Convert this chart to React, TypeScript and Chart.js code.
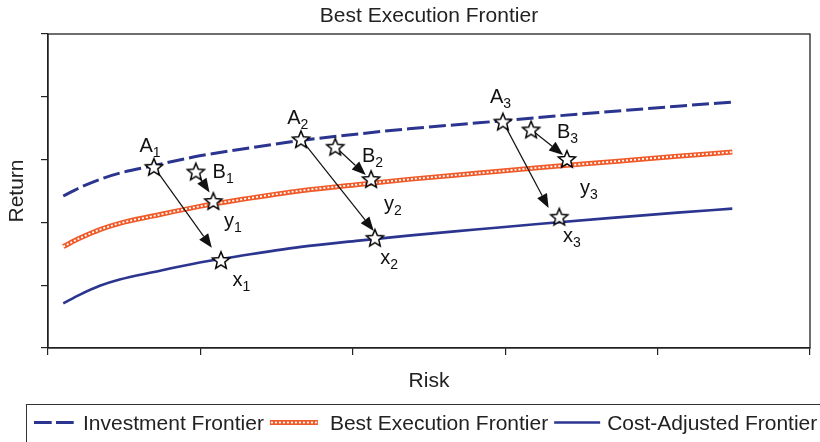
import React, { useEffect, useRef } from 'react';
import { Chart, registerables } from 'chart.js';

Chart.register(...registerables);

// ---- data (risk / return units, axes 0..100) ----
const riskPoints = [2.0, 4.2, 6.8, 9.4, 13.9, 19.9, 25.1, 33.2, 40.8, 47.3, 56.5, 64.3, 74.8, 82.6, 89.8];
const investmentReturn = [48.4, 51.1, 53.7, 55.7, 58.1, 61.2, 63.2, 66.1, 68.2, 69.8, 71.7, 73.4, 75.5, 77.0, 78.3];
const bestExecutionReturn = [32.3, 35.0, 37.7, 39.7, 42.1, 45.1, 47.2, 50.1, 52.1, 53.7, 55.7, 57.4, 59.5, 61.1, 62.4];
const costAdjustedReturn = [14.2, 17.0, 19.8, 21.8, 24.2, 27.2, 29.3, 32.2, 34.2, 35.8, 37.8, 39.5, 41.6, 43.1, 44.4];

const pointLetters = ['A', 'B', 'y', 'x', 'A', 'B', 'y', 'x', 'A', 'B', 'y', 'x'];
const pointSubs = ['1', '1', '1', '1', '2', '2', '2', '2', '3', '3', '3', '3'];
const pointRisk = [13.9, 19.4, 21.7, 22.7, 33.2, 37.7, 42.4, 42.9, 59.7, 63.4, 68.1, 67.1];
const pointReturn = [57.7, 56.2, 46.8, 28.0, 66.5, 64.1, 53.8, 35.1, 72.1, 69.6, 60.2, 41.8];
const labelRisk = [12.0, 21.6, 23.1, 24.2, 31.4, 41.2, 44.1, 43.6, 58.0, 66.8, 69.8, 67.6];
const labelReturn = [62.5, 54.0, 38.4, 19.9, 71.2, 59.3, 43.8, 26.9, 77.9, 66.8, 49.0, 33.6];

const arrowFrom = [0, 1, 4, 5, 8, 9];
const arrowToRisk = [21.5, 21.2, 42.75, 41.7, 65.7, 67.6];
const arrowToReturn = [31.9, 49.5, 37.3, 55.1, 44.6, 61.5];

const axisMin = 0;
const axisMax = 100;
const tickStep = 20;

const seriesNames = ['Investment Frontier', 'Best Execution Frontier', 'Cost-Adjusted Frontier'];

const FONT = '"Liberation Sans", Arial, Helvetica, sans-serif';
const NAVY = '#2b3590';
const ORANGE = '#f05a28';
const INK = '#222';

function makeStar(r: number): HTMLCanvasElement {
  const c = document.createElement('canvas');
  const s = Math.ceil(r * 2 + 4);
  c.width = s;
  c.height = s;
  const g = c.getContext('2d')!;
  g.translate(s / 2, s / 2 + 0.8);
  g.beginPath();
  for (let i = 0; i < 10; i++) {
    const rad = i % 2 === 0 ? r : r * 0.45;
    const a = -Math.PI / 2 + (i * Math.PI) / 5;
    g.lineTo(rad * Math.cos(a), rad * Math.sin(a));
  }
  g.closePath();
  g.fillStyle = '#fff';
  g.fill();
  g.lineWidth = 1.5;
  g.lineJoin = 'miter';
  g.strokeStyle = '#000';
  g.stroke();
  return c;
}

const STAR_INDEX = 0;

const decorPlugin = {
  id: 'decor',
  beforeDatasetDraw(chart: any, args: any) {
    if (args.index !== STAR_INDEX) return;
    const { ctx } = chart;
    const xs = chart.scales.x;
    const ys = chart.scales.y;
    ctx.save();
    ctx.strokeStyle = '#111';
    ctx.fillStyle = '#111';
    ctx.lineWidth = 1.2;
    for (let i = 0; i < arrowFrom.length; i++) {
      const k = arrowFrom[i];
      const x0 = xs.getPixelForValue(pointRisk[k]);
      const y0 = ys.getPixelForValue(pointReturn[k]);
      const x1 = xs.getPixelForValue(arrowToRisk[i]);
      const y1 = ys.getPixelForValue(arrowToReturn[i]);
      const ang = Math.atan2(y1 - y0, x1 - x0);
      const hl = 14;
      const hw = 5.5;
      const bx = x1 - hl * Math.cos(ang);
      const by = y1 - hl * Math.sin(ang);
      ctx.beginPath();
      ctx.moveTo(x0, y0);
      ctx.lineTo(bx, by);
      ctx.stroke();
      ctx.beginPath();
      ctx.moveTo(x1, y1);
      ctx.lineTo(bx + hw * Math.sin(ang), by - hw * Math.cos(ang));
      ctx.lineTo(bx - hw * Math.sin(ang), by + hw * Math.cos(ang));
      ctx.closePath();
      ctx.fill();
    }
    ctx.restore();
  },
  afterDatasetsDraw(chart: any) {
    const { ctx, chartArea } = chart;
    const xs = chart.scales.x;
    const ys = chart.scales.y;
    ctx.save();
    ctx.strokeStyle = INK;
    ctx.lineWidth = 1.3;
    ctx.strokeRect(chartArea.left, chartArea.top, chartArea.right - chartArea.left, chartArea.bottom - chartArea.top);
    ctx.fillStyle = '#111';
    ctx.textAlign = 'left';
    ctx.textBaseline = 'alphabetic';
    for (let i = 0; i < pointLetters.length; i++) {
      const px = xs.getPixelForValue(labelRisk[i]);
      const py = ys.getPixelForValue(labelReturn[i]);
      ctx.font = `20px ${FONT}`;
      ctx.fillText(pointLetters[i], px, py);
      const w = ctx.measureText(pointLetters[i]).width;
      ctx.font = `14px ${FONT}`;
      ctx.fillText(pointSubs[i], px + w, py + 5);
    }
    ctx.restore();
  },
  afterDraw(chart: any) {
    const { ctx } = chart;
    ctx.save();
    ctx.strokeStyle = '#333';
    ctx.lineWidth = 1;
    ctx.strokeRect(26.5, 404.5, 820, 60);
    const ly = 422.5;
    const ty = 429.5;
    ctx.font = `21px ${FONT}`;
    ctx.fillStyle = INK;
    ctx.textBaseline = 'alphabetic';
    ctx.textAlign = 'left';
    let x = 34;
    ctx.strokeStyle = NAVY;
    ctx.lineWidth = 3;
    ctx.setLineDash([17.7, 4.3]);
    ctx.beginPath();
    ctx.moveTo(x, ly);
    ctx.lineTo(x + 40, ly);
    ctx.stroke();
    x += 49;
    ctx.fillText(seriesNames[0], x, ty);
    x += ctx.measureText(seriesNames[0]).width + 6;
    ctx.setLineDash([]);
    ctx.strokeStyle = ORANGE;
    ctx.lineWidth = 5;
    ctx.beginPath();
    ctx.moveTo(x, ly);
    ctx.lineTo(x + 48, ly);
    ctx.stroke();
    ctx.strokeStyle = '#fff';
    ctx.lineWidth = 1.8;
    ctx.setLineDash([2, 2]);
    ctx.beginPath();
    ctx.moveTo(x + 1, ly);
    ctx.lineTo(x + 47, ly);
    ctx.stroke();
    ctx.setLineDash([]);
    x += 60;
    ctx.fillText(seriesNames[1], x, ty);
    x += ctx.measureText(seriesNames[1]).width + 6;
    ctx.strokeStyle = NAVY;
    ctx.lineWidth = 2.6;
    ctx.beginPath();
    ctx.moveTo(x, ly);
    ctx.lineTo(x + 46, ly);
    ctx.stroke();
    x += 53;
    ctx.fillText(seriesNames[2], x, ty);
    ctx.restore();
  },
};

export default function App() {
  const ref = useRef<HTMLCanvasElement | null>(null);

  useEffect(() => {
    const canvas = ref.current;
    if (!canvas) return;
    const star = makeStar(9);
    const toXY = (ys: number[]) => riskPoints.map((x, i) => ({ x, y: ys[i] }));
    const chart = new Chart(canvas, {
      type: 'line',
      data: {
        datasets: [
          {
            type: 'scatter',
            label: 'points',
            data: pointRisk.map((x, i) => ({ x, y: pointReturn[i] })),
            pointStyle: star as any,
            pointRadius: 9,
            showLine: false,
            order: 0,
          } as any,
          {
            label: seriesNames[0],
            data: toXY(investmentReturn),
            borderColor: NAVY,
            borderWidth: 3,
            borderDash: [17, 5],
            pointRadius: 0,
            cubicInterpolationMode: 'monotone',
            fill: false,
            order: 1,
          },
          {
            label: seriesNames[1],
            data: toXY(bestExecutionReturn),
            borderColor: ORANGE,
            borderWidth: 5,
            pointRadius: 0,
            cubicInterpolationMode: 'monotone',
            fill: false,
            order: 3,
          },
          {
            label: 'overlay',
            data: toXY(bestExecutionReturn),
            borderColor: '#ffffff',
            borderWidth: 1.8,
            borderDash: [2, 2],
            pointRadius: 0,
            cubicInterpolationMode: 'monotone',
            fill: false,
            order: 2,
          },
          {
            label: seriesNames[2],
            data: toXY(costAdjustedReturn),
            borderColor: NAVY,
            borderWidth: 2.6,
            pointRadius: 0,
            cubicInterpolationMode: 'monotone',
            fill: false,
            order: 1,
          },
        ],
      },
      options: {
        responsive: false,
        animation: false,
        devicePixelRatio: 1,
        layout: { padding: { top: 0, right: 7, bottom: 0, left: 0 } },
        plugins: {
          legend: { display: false },
          tooltip: { enabled: false },
          title: {
            display: true,
            text: 'Best Execution Frontier',
            fullSize: false,
            color: INK,
            font: { family: FONT, size: 21, weight: 'normal' },
            padding: { top: 4, bottom: 4.8 },
          },
        },
        scales: {
          x: {
            type: 'linear',
            min: axisMin,
            max: axisMax,
            ticks: { stepSize: tickStep, display: false },
            grid: { drawOnChartArea: false, drawTicks: true, tickLength: 7, color: INK, lineWidth: 1.2 },
            border: { display: true, color: INK, width: 1.3 },
            title: {
              display: true,
              text: 'Risk',
              color: INK,
              font: { family: FONT, size: 21 },
              padding: { top: 0, bottom: 48 },
            },
            afterFit: (s: any) => {
              s.height = 94;
            },
          },
          y: {
            type: 'linear',
            min: axisMin,
            max: axisMax,
            ticks: { stepSize: tickStep, display: false },
            grid: { drawOnChartArea: false, drawTicks: true, tickLength: 7, color: INK, lineWidth: 1.2 },
            border: { display: true, color: INK, width: 1.3 },
            title: {
              display: true,
              text: 'Return',
              color: INK,
              font: { family: FONT, size: 21 },
              padding: { top: 5, bottom: 0 },
            },
            afterFit: (s: any) => {
              s.width = 48;
            },
          },
        },
      } as any,
      plugins: [decorPlugin],
    });
    return () => chart.destroy();
  }, []);

  return (
    <div style={{ position: 'absolute', left: 0, top: 0, width: 820, height: 442, background: '#fff' }}>
      <canvas ref={ref} width={820} height={442} style={{ display: 'block', width: 820, height: 442 }} />
    </div>
  );
}
